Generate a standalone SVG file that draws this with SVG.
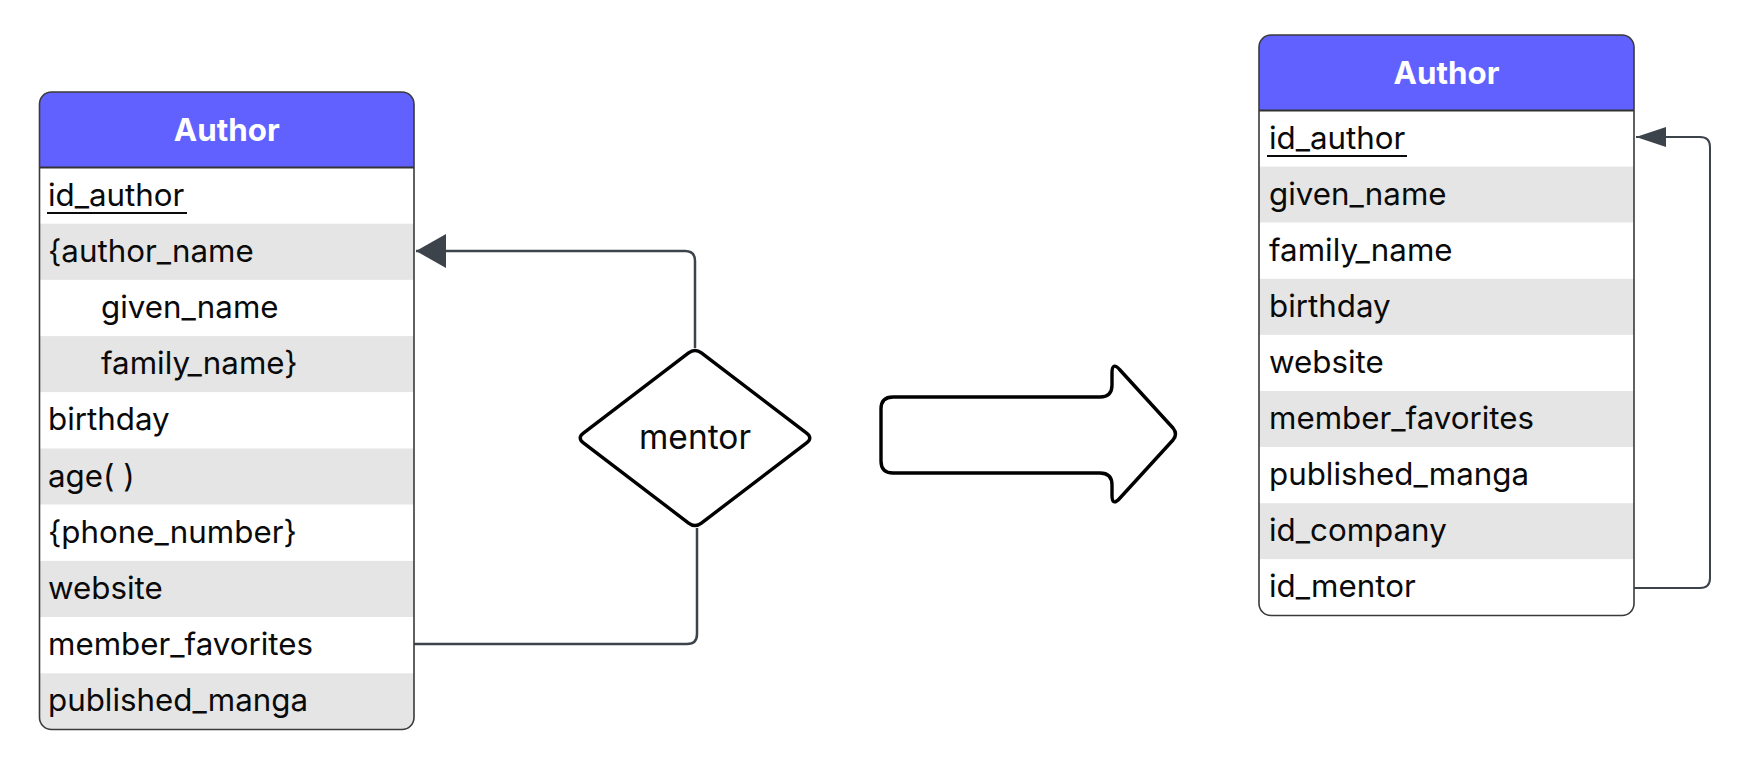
<svg xmlns="http://www.w3.org/2000/svg" width="1746" height="763" viewBox="0 0 1746 763">
<style>
.bg{fill:#ffffff}
.hdr{fill:#6161ff}
.w{fill:#ffffff}
.g{fill:#e5e5e5}
.border{fill:none;stroke:#3a3a3a;stroke-width:1.6}
.sep{stroke:#333333;stroke-width:2}
.t{font-family:Inter,"Noto Sans",sans-serif;font-size:31.3px;fill:#0a0a0a}
.m{font-family:Inter,"Noto Sans",sans-serif;font-size:33.5px;fill:#0a0a0a;text-anchor:middle}
.h{font-family:Inter,"Noto Sans",sans-serif;font-size:31.3px;font-weight:700;fill:#ffffff;text-anchor:middle}
.ul{stroke:#0a0a0a;stroke-width:2}
.conn{fill:none;stroke:#3d434b;stroke-width:2.5}
.conn2{fill:none;stroke:#3d434b;stroke-width:2}
.shape{fill:#ffffff;stroke:#000000;stroke-width:3.4;stroke-linejoin:round}
</style>
<defs>
<clipPath id="clipL"><rect x="39.5" y="92" width="374.5" height="637.5" rx="12"/></clipPath>
<clipPath id="clipR"><rect x="1259" y="35" width="375" height="580.5" rx="12"/></clipPath>
<marker id="ah1" markerUnits="userSpaceOnUse" markerWidth="30" markerHeight="34" refX="30" refY="17" orient="auto" viewBox="0 0 30 34"><path d="M0,0 L30,17 L0,34 Z" fill="#3d434b"/></marker>
<marker id="ah2" markerUnits="userSpaceOnUse" markerWidth="30" markerHeight="20" refX="30" refY="10" orient="auto" viewBox="0 0 30 20"><path d="M0,0 L30,10 L0,20 Z" fill="#3d434b"/></marker>
</defs>
<rect class="bg" x="0" y="0" width="1746" height="763"/>

<g id="connectors">
<path class="conn" d="M695 348 L695 261 Q695 251 685 251 L416 251" marker-end="url(#ah1)"/>
<path class="conn" d="M697 528 L697 634 Q697 644 687 644 L414 644"/>
<path class="conn2" d="M1634 588 L1700 588 Q1710 588 1710 578 L1710 147 Q1710 137 1700 137 L1636 137" marker-end="url(#ah2)"/>
</g>

<g id="author-left">
<g clip-path="url(#clipL)">
<rect class="hdr" x="39.5" y="92" width="374.5" height="75.5"/>
<rect class="w" x="39.5" y="167.5" width="374.5" height="56.2"/>
<rect class="g" x="39.5" y="223.7" width="374.5" height="56.2"/>
<rect class="w" x="39.5" y="279.9" width="374.5" height="56.2"/>
<rect class="g" x="39.5" y="336.1" width="374.5" height="56.2"/>
<rect class="w" x="39.5" y="392.3" width="374.5" height="56.2"/>
<rect class="g" x="39.5" y="448.5" width="374.5" height="56.2"/>
<rect class="w" x="39.5" y="504.7" width="374.5" height="56.2"/>
<rect class="g" x="39.5" y="560.9" width="374.5" height="56.2"/>
<rect class="w" x="39.5" y="617.1" width="374.5" height="56.2"/>
<rect class="g" x="39.5" y="673.3" width="374.5" height="56.2"/>
</g>
<line class="sep" x1="39.5" y1="167.5" x2="414" y2="167.5"/>
<rect class="border" x="39.5" y="92" width="374.5" height="637.5" rx="12"/>
<text class="h" x="226.75" y="141">Author</text>
<text class="t" x="48" y="205.6">id_author</text>
<line class="ul" x1="47" y1="213" x2="187" y2="213"/>
<text class="t" x="48" y="261.8">{author_name</text>
<text class="t" x="101" y="318">given_name</text>
<text class="t" x="101" y="374.2">family_name}</text>
<text class="t" x="48" y="430.4">birthday</text>
<text class="t" x="48" y="486.6">age( )</text>
<text class="t" x="48" y="542.8">{phone_number}</text>
<text class="t" x="48" y="599">website</text>
<text class="t" x="48" y="655.2">member_favorites</text>
<text class="t" x="48" y="711.4">published_manga</text>
</g>

<g id="mentor">
<path class="shape" d="M688.6 352.9 Q695 348 701.4 352.9 L806.6 433.1 Q813 438 806.6 442.9 L701.4 523.1 Q695 528 688.6 523.1 L583.4 442.9 Q577 438 583.4 433.1 Z"/>
<text class="m" x="695" y="449">mentor</text>
</g>

<g id="transform-arrow">
<path class="shape" d="M893 397 L1100 397 Q1112 397 1112 385 L1112 373 Q1112 361 1120 370 L1173 428 Q1178 434 1173 440 L1120 498 Q1112 507 1112 495 L1112 485 Q1112 473 1100 473 L893 473 Q881 473 881 461 L881 409 Q881 397 893 397 Z"/>
</g>

<g id="author-right">
<g clip-path="url(#clipR)">
<rect class="hdr" x="1259" y="35" width="375" height="75.5"/>
<rect class="w" x="1259" y="110.5" width="375" height="56.1"/>
<rect class="g" x="1259" y="166.6" width="375" height="56.1"/>
<rect class="w" x="1259" y="222.7" width="375" height="56.1"/>
<rect class="g" x="1259" y="278.8" width="375" height="56.1"/>
<rect class="w" x="1259" y="334.9" width="375" height="56.1"/>
<rect class="g" x="1259" y="391" width="375" height="56.1"/>
<rect class="w" x="1259" y="447.1" width="375" height="56.1"/>
<rect class="g" x="1259" y="503.2" width="375" height="56.1"/>
<rect class="w" x="1259" y="559.3" width="375" height="56.2"/>
</g>
<line class="sep" x1="1259" y1="110.5" x2="1634" y2="110.5"/>
<rect class="border" x="1259" y="35" width="375" height="580.5" rx="12"/>
<text class="h" x="1446.5" y="83.5">Author</text>
<text class="t" x="1269" y="148.5">id_author</text>
<line class="ul" x1="1267" y1="156" x2="1407" y2="156"/>
<text class="t" x="1269" y="204.6">given_name</text>
<text class="t" x="1269" y="260.7">family_name</text>
<text class="t" x="1269" y="316.8">birthday</text>
<text class="t" x="1269" y="372.9">website</text>
<text class="t" x="1269" y="429">member_favorites</text>
<text class="t" x="1269" y="485.1">published_manga</text>
<text class="t" x="1269" y="541.2">id_company</text>
<text class="t" x="1269" y="597.3">id_mentor</text>
</g>
</svg>
